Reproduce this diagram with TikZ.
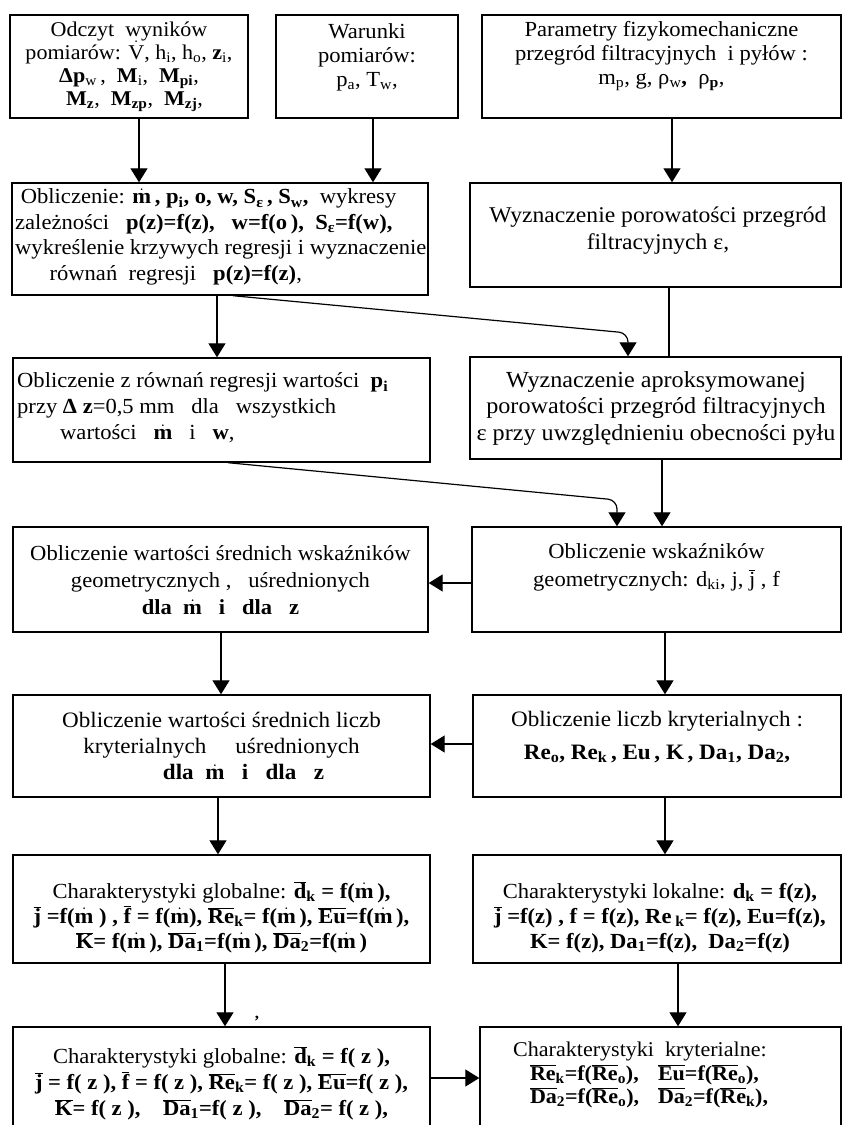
\documentclass[tikz,border=0pt]{standalone}
\usepackage{fontspec}
\setmainfont{Liberation Serif}[FakeStretch=1.05]
\usetikzlibrary{arrows.meta}
\newcommand\mdm{\ensuremath{\dot{\hbox{\bfseries m}}}}
\newcommand\vdt{\ensuremath{\dot{\hbox{V}}}}
\newcommand\ovl[1]{\ensuremath{\overline{\hbox{#1}}}}
\newcommand\sbs[1]{\textsubscript{#1}}
\begin{document}
\begin{tikzpicture}[x=1pt,y=-1pt,
  box/.style={draw, line width=1.4pt, inner sep=0pt},
  txt/.style={font=\fontsize{22}{26}\selectfont, align=center, inner sep=0pt},
  arr/.style={line width=1.2pt, -{Triangle[width=17pt,length=14pt]}},
  ln/.style={line width=1.2pt}]
\useasboundingbox (0,0) rectangle (843,1125);
\clip (0,0) rectangle (843,1125);
% boxes
\node[box, minimum width=238pt, minimum height=103pt] (b1) at (129,66.5) {};
\node[box, minimum width=182pt, minimum height=103pt] (b2) at (367,66.5) {};
\node[box, minimum width=359pt, minimum height=103pt] (b3) at (661.5,66.5) {};
\node[box, minimum width=416pt, minimum height=112pt] (b4) at (220,239) {};
\node[box, minimum width=371pt, minimum height=104pt] (b5) at (655.5,235) {};
\node[box, minimum width=417pt, minimum height=104pt] (b6) at (221.5,410) {};
\node[box, minimum width=371pt, minimum height=102pt] (b7) at (655.5,408) {};
\node[box, minimum width=415pt, minimum height=105pt] (b8) at (220.5,579.5) {};
\node[box, minimum width=369pt, minimum height=105pt] (b9) at (656.5,579.5) {};
\node[box, minimum width=417pt, minimum height=102pt] (b10) at (221.5,746) {};
\node[box, minimum width=368pt, minimum height=102pt] (b11) at (657,746) {};
\node[box, minimum width=417pt, minimum height=108pt] (b12) at (221.5,909) {};
\node[box, minimum width=368pt, minimum height=108pt] (b13) at (657,909) {};
\node[box, minimum width=417pt, minimum height=113pt] (b14) at (221.5,1083.5) {};
\node[box, minimum width=361pt, minimum height=113pt] (b15) at (660.5,1083.5) {};
% texts
\node[txt, font=\fontsize{21}{23}\selectfont] (t1) at (129,67) {Odczyt\ \ wyników\\
pomiarów: \vdt, h\sbs{i}, h\sbs{o}, \textbf{z}\sbs{i},\\
\textbf{Δp}\sbs{w}\,,\ \ \textbf{M}\sbs{i},\ \ \textbf{M}\sbs{\textbf{pi}},\\
\ \ \textbf{M\sbs{z}},\ \ \textbf{M\sbs{zp}},\ \ \textbf{M\sbs{zj}},};
\node[txt, font=\fontsize{21.5}{24}\selectfont] (t2) at (367,57) {Warunki\\ pomiarów:\\ p\sbs{a}, T\sbs{w},};
\node[txt, font=\fontsize{21.5}{24}\selectfont] (t3) at (661.5,56) {Parametry fizykomechaniczne\\ przegród filtracyjnych\ \ i pyłów :\\ m\sbs{p}, g, ρ\sbs{w}\textbf{,}\ \ ρ\sbs{\textbf{p}},};
\node[txt, align=left, anchor=west, font=\fontsize{21.5}{25.5}\selectfont] (t4) at (15,237) {\ Obliczenie: \textbf{\mdm\,, p\sbs{i}, o, w, S\sbs{ε}\,, S\sbs{w},}\ \ wykresy\\
zależności\ \ \ \textbf{p(z)=f(z),}\ \ \ \textbf{w=f(o\,),}\ \ \textbf{S\sbs{ε}=f(w),}\\
wykreślenie krzywych regresji i wyznaczenie\\
\hspace*{1.6em}równań\ \ regresji\ \ \ \textbf{p(z)=f(z)},};
\node[txt, font=\fontsize{22.5}{27}\selectfont] (t5) at (658,231) {Wyznaczenie porowatości przegród\\ filtracyjnych ε,};
\node[txt, align=left, anchor=west, font=\fontsize{21.5}{26}\selectfont] (t6) at (17,408) {Obliczenie z równań regresji wartości\ \ \textbf{p\sbs{i}}\\
przy\ \textbf{Δ z}=0,5 mm\ \ \ dla\ \ \ wszystkich\\
\hspace*{2em}wartości\ \ \ \mdm\ \ \ i\ \ \ \textbf{w},};
\node[txt, font=\fontsize{23}{26.5}\selectfont] (t7) at (656,408) {Wyznaczenie aproksymowanej\\ porowatości przegród filtracyjnych\\ ε przy uwzględnieniu obecności pyłu};
\node[txt, font=\fontsize{21.5}{27}\selectfont] (t8) at (220.5,580) {Obliczenie wartości średnich wskaźników\\ geometrycznych ,\ \ \ uśrednionych\\ \textbf{dla\ \ \mdm\ \ \ i\ \ \ dla\ \ \ z}};
\node[txt, font=\fontsize{21.5}{28}\selectfont] (t9) at (656.5,567) {Obliczenie wskaźników\\ geometrycznych: d\sbs{ki}, j, \ovl{j} , f};
\node[txt, font=\fontsize{22}{26}\selectfont] (t10) at (221.5,746) {Obliczenie wartości średnich liczb\\ kryterialnych\ \ \ \ \ uśrednionych\\ \hspace*{2em}\textbf{dla\ \ \mdm\ \ \ i\ \ \ dla\ \ \ z}};
\node[txt, font=\fontsize{22}{33}\selectfont] (t11) at (657,737) {Obliczenie liczb kryterialnych :\\ \textbf{Re\sbs{o}, Re\sbs{k}\,, Eu\,, K\,, Da\sbs{1}, Da\sbs{2},}};
\node[txt, font=\fontsize{21.5}{25}\selectfont] (t12) at (221.5,917) {Charakterystyki globalne: \textbf{\ovl{d}\sbs{k} = f(\mdm\,),}\\
\textbf{\ovl{j}\ =f(\mdm\ ) , \ovl{f} = f(\mdm), \ovl{Re}\sbs{k}= f(\mdm\,), \ovl{Eu}=f(\mdm\,),}\\
\textbf{\ovl{K}= f(\mdm\,), \ovl{Da}\sbs{1}=f(\mdm\,), \ovl{Da}\sbs{2}=f(\mdm\,)}};
\node[txt, font=\fontsize{21.5}{25}\selectfont] (t13) at (660,918) {Charakterystyki lokalne: \textbf{d\sbs{k} = f(z),}\\
\textbf{\ovl{j}\ =f(z) , f = f(z), Re\sbs{ k}= f(z), Eu=f(z),}\\
\textbf{K= f(z), Da\sbs{1}=f(z),\ \ Da\sbs{2}=f(z)}};
\node[txt, font=\fontsize{21.5}{26}\selectfont] (t14) at (221.5,1083) {Charakterystyki globalne: \textbf{\ovl{d}\sbs{k} = f( z ),}\\
\textbf{\ovl{j}\ = f( z ), \ovl{f} = f( z ), \ovl{Re}\sbs{k}= f( z ), \ovl{Eu}=f( z ),}\\
\textbf{\ovl{K}= f( z ),\ \ \ \ \ovl{Da}\sbs{1}=f( z ),\ \ \ \ \ovl{Da}\sbs{2}= f( z ),}};
\node[txt, align=left, anchor=west, font=\fontsize{21}{23.5}\selectfont] (t15) at (513,1075) {Charakterystyki\ \ kryterialne:\\
\hspace*{0.8em}\textbf{\makebox[128pt][l]{\ovl{Re}\sbs{k}=f(\ovl{Re}\sbs{o}),}\ovl{Eu}=f(\ovl{Re}\sbs{o}),}\\
\hspace*{0.8em}\textbf{\makebox[128pt][l]{\ovl{Da}\sbs{2}=f(\ovl{Re}\sbs{o}),}\ovl{Da}\sbs{2}=f(\ovl{Re}\sbs{k}),}};
\node[font=\fontsize{16}{16}\selectfont\bfseries, inner sep=0pt] (cm) at (257,1019) {,};
% helper coordinates
\coordinate (x1) at (139,0);
\coordinate (x2) at (373,0);
\coordinate (x3) at (672,0);
\coordinate (x4) at (217,0);
\coordinate (s1) at (233,0);
\coordinate (k1) at (628,333);
\coordinate (x5) at (669,0);
\coordinate (s2) at (228,0);
\coordinate (k2) at (617,500);
\coordinate (x6) at (662,0);
\coordinate (y1) at (0,583);
\coordinate (x7) at (221,0);
\coordinate (x8) at (665,0);
\coordinate (y2) at (0,744);
\coordinate (x9) at (218,0);
\coordinate (x10) at (665,0);
\coordinate (x11) at (225,0);
\coordinate (x12) at (678,0);
\coordinate (y3) at (0,1078);
% connectors
\draw[arr] (b1.south -| x1) -- (b4.north -| x1);
\draw[arr] (b2.south -| x2) -- (b4.north -| x2);
\draw[arr] (b3.south -| x3) -- (b5.north -| x3);
\draw[arr] (b4.south -| x4) -- (b6.north -| x4);
\draw[arr, rounded corners=9pt] (b4.south -| s1) -- (k1) -- (b7.north -| k1);
\draw[ln] (b5.south -| x5) -- (b7.north -| x5);
\draw[arr, rounded corners=9pt] (b6.south -| s2) -- (k2) -- (b9.north -| k2);
\draw[arr] (b7.south -| x6) -- (b9.north -| x6);
\draw[arr] (b9.west |- y1) -- (b8.east |- y1);
\draw[arr] (b8.south -| x7) -- (b10.north -| x7);
\draw[arr] (b9.south -| x8) -- (b11.north -| x8);
\draw[arr] (b11.west |- y2) -- (b10.east |- y2);
\draw[arr] (b10.south -| x9) -- (b12.north -| x9);
\draw[arr] (b11.south -| x10) -- (b13.north -| x10);
\draw[arr] (b12.south -| x11) -- (b14.north -| x11);
\draw[arr] (b13.south -| x12) -- (b15.north -| x12);
\draw[arr] (b14.east |- y3) -- (b15.west |- y3);
\end{tikzpicture}
\end{document}
